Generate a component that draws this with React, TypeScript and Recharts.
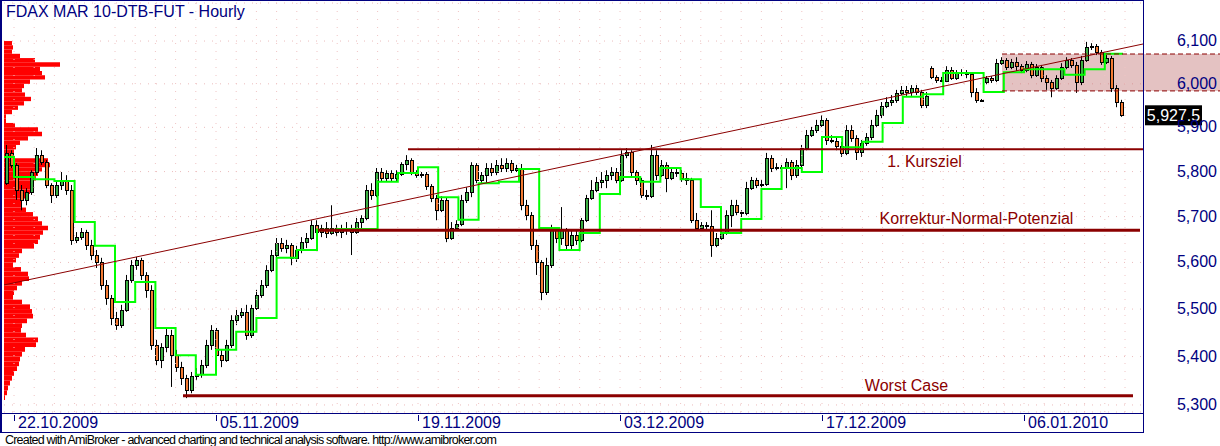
import React from 'react';
import {
  ComposedChart,
  Bar,
  Line,
  XAxis,
  YAxis,
  CartesianGrid,
  ReferenceLine,
  ReferenceArea,
  ReferenceDot,
} from 'recharts';

// hourly FDAX candles
const opens = [
  5774, 5842, 5815, 5759, 5737, 5754, 5799, 5837, 5821, 5770, 5748, 5770, 5781, 5759, 5649, 5655, 5666, 5638, 5616, 5601,
  5551, 5524, 5481, 5466, 5498, 5562, 5594, 5605, 5573, 5541, 5424, 5393, 5420, 5445, 5403, 5378, 5356, 5331, 5360, 5364,
  5382, 5424, 5456, 5403, 5393, 5424, 5477, 5487, 5494, 5445, 5502, 5530, 5551, 5584, 5616, 5642, 5631, 5638, 5610, 5627,
  5644, 5653, 5682, 5666, 5675, 5664, 5675, 5666, 5671, 5675, 5666, 5688, 5697, 5759, 5748, 5799, 5786, 5797, 5786, 5794,
  5817, 5826, 5799, 5792, 5794, 5768, 5741, 5714, 5737, 5653, 5675, 5684, 5737, 5754, 5815, 5781, 5792, 5808, 5799, 5815,
  5808, 5819, 5803, 5808, 5725, 5703, 5638, 5601, 5536, 5594, 5671, 5653, 5671, 5638, 5660, 5649, 5692, 5741, 5759, 5777,
  5781, 5792, 5799, 5781, 5837, 5844, 5799, 5781, 5748, 5745, 5837, 5792, 5815, 5786, 5799, 5797, 5786, 5781, 5692, 5675,
  5682, 5679, 5638, 5653, 5664, 5703, 5725, 5710, 5708, 5763, 5781, 5770, 5772, 5830, 5808, 5810, 5808, 5821, 5792, 5815,
  5853, 5882, 5894, 5905, 5917, 5871, 5869, 5858, 5842, 5894, 5876, 5844, 5864, 5878, 5905, 5928, 5949, 5958, 5963, 5979,
  5986, 5981, 5990, 5981, 5951, 6037, 6016, 6009, 6006, 6032, 6013, 6025, 6027, 6023, 5981, 5963, 6004, 6013, 6009, 6048,
  6055, 6039, 6051, 6041, 6032, 6046, 6020, 6039, 6013, 6004, 5990, 6013, 6039, 6055, 6044, 6004, 6055, 6086, 6088, 6074,
  6051, 6060, 5990, 5958,
];
const highs = [
  5860, 5848, 5819, 5770, 5763, 5803, 5853, 5848, 5826, 5774, 5781, 5799, 5792, 5770, 5666, 5675, 5671, 5649, 5627, 5610,
  5562, 5530, 5494, 5509, 5573, 5605, 5612, 5610, 5579, 5551, 5435, 5428, 5460, 5456, 5414, 5389, 5362, 5368, 5376, 5393,
  5435, 5466, 5460, 5414, 5435, 5487, 5498, 5502, 5509, 5509, 5541, 5562, 5594, 5627, 5653, 5653, 5649, 5642, 5636, 5655,
  5664, 5692, 5692, 5682, 5688, 5725, 5682, 5682, 5688, 5682, 5697, 5703, 5770, 5774, 5808, 5808, 5803, 5803, 5803, 5821,
  5837, 5830, 5803, 5799, 5799, 5772, 5748, 5745, 5741, 5688, 5692, 5748, 5765, 5821, 5819, 5799, 5819, 5819, 5826, 5830,
  5830, 5826, 5815, 5817, 5737, 5710, 5649, 5605, 5610, 5682, 5677, 5721, 5675, 5671, 5671, 5697, 5748, 5781, 5788, 5799,
  5803, 5810, 5808, 5848, 5853, 5848, 5803, 5786, 5759, 5860, 5848, 5826, 5821, 5808, 5808, 5803, 5797, 5786, 5708, 5688,
  5688, 5714, 5664, 5671, 5714, 5737, 5737, 5714, 5777, 5788, 5786, 5781, 5842, 5837, 5819, 5815, 5830, 5826, 5826, 5860,
  5894, 5901, 5917, 5928, 5921, 5882, 5878, 5867, 5905, 5905, 5882, 5871, 5887, 5917, 5940, 5958, 5969, 5974, 5986, 5995,
  5995, 5997, 5997, 5986, 5981, 6041, 6020, 6016, 6041, 6039, 6032, 6034, 6032, 6027, 5990, 5965, 6018, 6018, 6058, 6062,
  6060, 6058, 6062, 6046, 6053, 6051, 6046, 6044, 6020, 6009, 6020, 6048, 6062, 6060, 6051, 6065, 6098, 6095, 6093, 6079,
  6067, 6065, 5997, 5963,
];
const lows = [
  5770, 5808, 5737, 5714, 5725, 5748, 5792, 5815, 5763, 5730, 5741, 5759, 5748, 5638, 5642, 5649, 5627, 5605, 5588, 5541,
  5509, 5466, 5456, 5460, 5494, 5556, 5584, 5562, 5524, 5414, 5382, 5376, 5409, 5337, 5368, 5341, 5314, 5324, 5351, 5356,
  5376, 5414, 5393, 5378, 5389, 5418, 5466, 5481, 5435, 5439, 5498, 5524, 5545, 5579, 5610, 5623, 5620, 5594, 5601, 5620,
  5631, 5649, 5657, 5655, 5653, 5660, 5657, 5653, 5660, 5616, 5662, 5675, 5692, 5737, 5743, 5777, 5777, 5777, 5777, 5790,
  5803, 5792, 5786, 5786, 5759, 5732, 5692, 5710, 5644, 5649, 5671, 5679, 5730, 5743, 5774, 5774, 5774, 5790, 5792, 5799,
  5799, 5797, 5799, 5714, 5692, 5627, 5573, 5519, 5530, 5588, 5642, 5638, 5627, 5627, 5638, 5644, 5688, 5737, 5754, 5763,
  5763, 5781, 5774, 5777, 5830, 5788, 5770, 5741, 5737, 5741, 5781, 5788, 5754, 5781, 5788, 5777, 5770, 5686, 5671, 5671,
  5671, 5612, 5633, 5649, 5660, 5677, 5703, 5699, 5703, 5759, 5763, 5763, 5768, 5799, 5803, 5799, 5763, 5781, 5786, 5808,
  5848, 5878, 5887, 5901, 5860, 5864, 5848, 5833, 5837, 5867, 5826, 5833, 5858, 5871, 5901, 5921, 5944, 5949, 5956, 5974,
  5972, 5972, 5974, 5944, 5944, 6011, 6002, 6004, 6004, 6009, 6009, 6018, 6013, 5969, 5956, 5958, 5999, 6002, 6004, 6044,
  6032, 6034, 6030, 6025, 6027, 6013, 6016, 6004, 5986, 5969, 5986, 6009, 6034, 6037, 5979, 5997, 6051, 6079, 6067, 6044,
  6046, 5981, 5946, 5924,
];
const closes = [
  5842, 5815, 5759, 5737, 5754, 5799, 5837, 5821, 5770, 5748, 5770, 5781, 5759, 5649, 5655, 5666, 5638, 5616, 5601, 5551,
  5524, 5481, 5466, 5498, 5562, 5594, 5605, 5573, 5541, 5424, 5393, 5420, 5445, 5403, 5378, 5356, 5331, 5360, 5364, 5382,
  5424, 5456, 5403, 5393, 5424, 5477, 5487, 5494, 5445, 5502, 5530, 5551, 5584, 5616, 5642, 5631, 5638, 5610, 5627, 5644,
  5653, 5682, 5666, 5675, 5664, 5675, 5666, 5671, 5675, 5666, 5688, 5697, 5759, 5748, 5799, 5786, 5797, 5786, 5794, 5817,
  5826, 5799, 5792, 5794, 5768, 5741, 5714, 5737, 5653, 5675, 5684, 5737, 5754, 5815, 5781, 5792, 5808, 5799, 5815, 5808,
  5819, 5803, 5808, 5725, 5703, 5638, 5601, 5536, 5594, 5671, 5653, 5671, 5638, 5660, 5649, 5692, 5741, 5759, 5777, 5781,
  5792, 5799, 5781, 5837, 5844, 5799, 5781, 5748, 5745, 5837, 5792, 5815, 5786, 5799, 5797, 5786, 5781, 5692, 5675, 5682,
  5679, 5638, 5653, 5664, 5703, 5725, 5710, 5708, 5763, 5781, 5770, 5772, 5830, 5808, 5810, 5808, 5821, 5792, 5815, 5853,
  5882, 5894, 5905, 5917, 5871, 5869, 5858, 5842, 5894, 5876, 5844, 5864, 5878, 5905, 5928, 5949, 5958, 5963, 5979, 5986,
  5981, 5990, 5981, 5951, 5972, 6016, 6009, 6006, 6032, 6013, 6025, 6027, 6023, 5981, 5963, 5960, 6013, 6009, 6048, 6055,
  6039, 6051, 6041, 6032, 6046, 6020, 6039, 6013, 6004, 5990, 6013, 6039, 6055, 6044, 6004, 6055, 6086, 6088, 6074, 6051,
  6060, 5990, 5958, 5927.5,
];

// green daily step line, first value is the day before 22.10.2009
const dailyLevel = [
  5833, 5788, 5783, 5779, 5688, 5636, 5515, 5558, 5460, 5403, 5362, 5414, 5452, 5481, 5610, 5627, 5671, 5673, 5673, 5777,
  5797, 5810, 5743, 5693, 5774, 5777, 5806, 5675, 5627, 5664, 5750, 5788, 5777, 5808, 5783, 5721, 5664, 5695, 5761, 5808,
  5799, 5878, 5855, 5867, 5910, 5970, 5976, 6025, 6025, 5981, 6027, 6034, 6034, 6021, 6034, 6070,
];

const dateLabels = ['22.10.2009', '05.11.2009', '19.11.2009', '03.12.2009', '17.12.2009', '06.01.2010'];
const dateLabelDays = [0, 10, 20, 30, 40, 50];
const priceTicks = [5300, 5400, 5500, 5600, 5700, 5800, 5900, 6000, 6100];

// volume at price (left histogram), bucket mid prices and volume
const vapPrices = [
  6095, 6085, 6075, 6065, 6055, 6045, 6035, 6025, 6015, 6005, 5995, 5985, 5975, 5965, 5955, 5945, 5935, 5925, 5915, 5905,
  5895, 5885, 5875, 5865, 5855, 5845, 5835, 5825, 5815, 5805, 5795, 5785, 5775, 5765, 5755, 5745, 5735, 5725, 5715, 5705,
  5695, 5685, 5675, 5665, 5655, 5645, 5635, 5625, 5615, 5605, 5595, 5585, 5575, 5565, 5555, 5545, 5535, 5525, 5515, 5505,
  5495, 5485, 5475, 5465, 5455, 5445, 5435, 5425, 5415, 5405, 5395, 5385, 5375, 5365, 5355, 5345, 5335, 5325, 5315,
];
const vapVolume = [
  8, 9, 8, 16, 31, 56, 36, 38, 41, 26, 20, 18, 21, 27, 20, 14, 8, 2, 2, 11,
  34, 38, 24, 16, 12, 10, 10, 44, 46, 38, 34, 32, 30, 28, 26, 22, 18, 18, 22, 29,
  34, 38, 44, 39, 36, 34, 30, 18, 15, 12, 9, 17, 24, 25, 18, 13, 10, 9, 18, 26,
  28, 29, 23, 18, 17, 22, 34, 32, 21, 18, 16, 15, 13, 10, 8, 6, 4, 3, 1,
];

const trendLine = [5551.5, 6093];
const kursziel = 5850;
const korrektur = 5670;
const worstCase = 5319;
const zone = [5983.6, 6069.5];
const lastPrice = 5927.5;

const BAR_MIN = -0.4;
const BAR_MAX = 227.4;
const FIRST_DAY = 1.6;
const BARS_PER_DAY = 4.04;
const VOLUME_PER_BAR = 5; // histogram volume units per bar slot on the x axis
const dayStart = (d: number) => FIRST_DAY + d * BARS_PER_DAY;

const FONT = "'Liberation Sans', Arial, sans-serif";
const NAVY = '#000080';
const MAROON = '#8b0000';

const candles = closes.map((c, i) => ({ i, range: [lows[i], highs[i]], o: opens[i], c }));
const greenPts = dailyLevel.map((v, k) => ({ i: dayStart(k - 1), v }));
greenPts.push({ i: 223.4, v: dailyLevel[dailyLevel.length - 1] });
const gridDays = Array.from({ length: 56 }, (_, k) => dayStart(k));

const Candle = (props: any) => {
  const { x, y, width, height, payload } = props;
  if (x == null || y == null) return null;
  const lo = payload.range[0];
  const hi = payload.range[1];
  const span = Math.log(hi) - Math.log(lo);
  const py = (p: number) => (span > 0 ? y + (height * (Math.log(hi) - Math.log(p))) / span : y);
  const cx = Math.round(x + width / 2);
  const top = Math.round(py(Math.max(payload.o, payload.c)));
  const bot = Math.round(py(Math.min(payload.o, payload.c)));
  const up = payload.c >= payload.o;
  return (
    <g>
      <line x1={cx + 0.5} x2={cx + 0.5} y1={y} y2={y + height} stroke="#000" strokeWidth={1} />
      <rect
        x={cx - 0.5}
        y={top + 0.5}
        width={3}
        height={Math.max(bot - top, 1)}
        fill={up ? '#3cb043' : '#f47a32'}
        stroke="#000"
        strokeWidth={1}
      />
    </g>
  );
};

const PriceTick = ({ x, y, payload }: any) => {
  const v = payload.value as number;
  const txt = `${Math.floor(v / 1000)},${String(v % 1000).padStart(3, '0')}`;
  return (
    <text x={x + 74} y={y + 5} textAnchor="end" fill={NAVY} fontSize={16} fontFamily={FONT}>
      {txt}
    </text>
  );
};

const DateTick = ({ x, y, index }: any) => (
  <g>
    <line x1={Math.round(x) + 0.5} x2={Math.round(x) + 0.5} y1={y + 3} y2={y + 9} stroke={NAVY} />
    <text x={x + 4} y={y + 16} fill={NAVY} fontSize={16} fontFamily={FONT}>
      {dateLabels[index]}
    </text>
  </g>
);

const textLabel = (text: string, dy: number) => (p: any) => (
  <text x={p.cx} y={p.cy + dy} textAnchor="middle" fill={MAROON} fontSize={16} fontFamily={FONT}>
    {text}
  </text>
);

const PriceBox = (p: any) => (
  <g>
    <rect x={p.cx + 2} y={p.cy - 10} width={57} height={20} fill="#000" />
    <text x={p.cx + 30.5} y={p.cy + 6} textAnchor="middle" fill="#fff" fontSize={16} fontFamily={FONT}>
      5,927.5
    </text>
  </g>
);

export default function App() {
  return (
    <div style={{ position: 'absolute', left: 0, top: 0, width: 1220, height: 446, background: '#fff' }}>
      <ComposedChart width={1220} height={446} data={candles} margin={{ top: 3, right: 0, bottom: 14, left: 4 }}>
        <CartesianGrid vertical={false} stroke="#ebbcbc" strokeDasharray="1 7" />
        <XAxis
          dataKey="i"
          type="number"
          domain={[BAR_MIN, BAR_MAX]}
          allowDataOverflow
          ticks={dateLabelDays.map(dayStart)}
          interval={0}
          height={20}
          axisLine={false}
          tickLine={false}
          tickSize={0}
          tickMargin={0}
          tick={<DateTick />}
        />
        <YAxis
          orientation="right"
          width={77}
          scale="log"
          domain={[5285.6, 6190.3]}
          allowDataOverflow
          ticks={priceTicks}
          interval={0}
          axisLine={false}
          tickLine={false}
          tickSize={0}
          tickMargin={0}
          tick={<PriceTick />}
        />
        <ReferenceArea
          x1={199.2}
          x2={242.8}
          y1={zone[0]}
          y2={zone[1]}
          fill="#be6e6e"
          fillOpacity={0.42}
          stroke="none"
          ifOverflow="visible"
        />
        {vapPrices.map((p, k) => (
          <ReferenceArea
            key={'v' + k}
            x1={BAR_MIN}
            x2={BAR_MIN + vapVolume[k] / VOLUME_PER_BAR}
            y1={p - 5}
            y2={p + 5}
            fill="#ff0000"
            fillOpacity={1}
            stroke="none"
          />
        ))}
        {gridDays.map((d, k) => (
          <ReferenceLine key={'g' + k} x={d} stroke="#f0c4c4" strokeDasharray="1 7" />
        ))}
        <Line
          data={greenPts}
          dataKey="v"
          type="stepAfter"
          stroke="#00ff00"
          strokeWidth={2}
          dot={false}
          isAnimationActive={false}
        />
        <Bar dataKey="range" barSize={4} shape={<Candle />} isAnimationActive={false} />
        <ReferenceLine
          segment={[{ x: BAR_MIN, y: trendLine[0] }, { x: BAR_MAX, y: trendLine[1] }]}
          stroke={MAROON}
          strokeWidth={1}
          ifOverflow="visible"
        />
        <ReferenceLine
          segment={[{ x: 80.4, y: kursziel }, { x: BAR_MAX, y: kursziel }]}
          stroke={MAROON}
          strokeWidth={2}
          ifOverflow="visible"
        />
        <ReferenceLine
          segment={[{ x: 62.4, y: korrektur }, { x: 226.8, y: korrektur }]}
          stroke={MAROON}
          strokeWidth={3}
          ifOverflow="visible"
        />
        <ReferenceLine
          segment={[{ x: 35.4, y: worstCase }, { x: 225.4, y: worstCase }]}
          stroke={MAROON}
          strokeWidth={3}
          ifOverflow="visible"
        />
        <ReferenceLine
          segment={[{ x: 199.2, y: zone[1] }, { x: 242.8, y: zone[1] }]}
          stroke={MAROON}
          strokeDasharray="5 3"
          ifOverflow="visible"
        />
        <ReferenceLine
          segment={[{ x: 199.2, y: zone[0] }, { x: 242.8, y: zone[0] }]}
          stroke={MAROON}
          strokeDasharray="5 3"
          ifOverflow="visible"
        />
        <ReferenceDot x={183.7} y={kursziel} r={0} ifOverflow="visible" shape={textLabel('1. Kursziel', 18)} />
        <ReferenceDot
          x={194.1}
          y={korrektur}
          r={0}
          ifOverflow="visible"
          shape={textLabel('Korrektur-Normal-Potenzial', -6)}
        />
        <ReferenceDot x={180.1} y={worstCase} r={0} ifOverflow="visible" shape={textLabel('Worst Case', -5)} />
        <ReferenceDot x={BAR_MAX} y={lastPrice} r={0} ifOverflow="visible" shape={PriceBox} />
      </ComposedChart>
      <svg
        width={1220}
        height={446}
        style={{ position: 'absolute', left: 0, top: 0, pointerEvents: 'none' }}
      >
        <line x1={1} y1={0} x2={1} y2={433} stroke={NAVY} strokeWidth={2} />
        <line x1={0} y1={0.5} x2={1144} y2={0.5} stroke={NAVY} />
        <line x1={1143.5} y1={0} x2={1143.5} y2={433} stroke={NAVY} />
        <line x1={0} y1={413.5} x2={1144} y2={413.5} stroke={NAVY} />
        <line x1={0} y1={432.5} x2={1144} y2={432.5} stroke={NAVY} />
        <text x={6} y={17} fill={NAVY} fontSize={16} fontFamily={FONT}>
          FDAX MAR 10-DTB-FUT - Hourly
        </text>
        <text x={5} y={444} fill="#000" fontSize={12.5} letterSpacing={-0.8} fontFamily={FONT}>
          Created with AmiBroker - advanced charting and technical analysis software. http://www.amibroker.com
        </text>
      </svg>
    </div>
  );
}
